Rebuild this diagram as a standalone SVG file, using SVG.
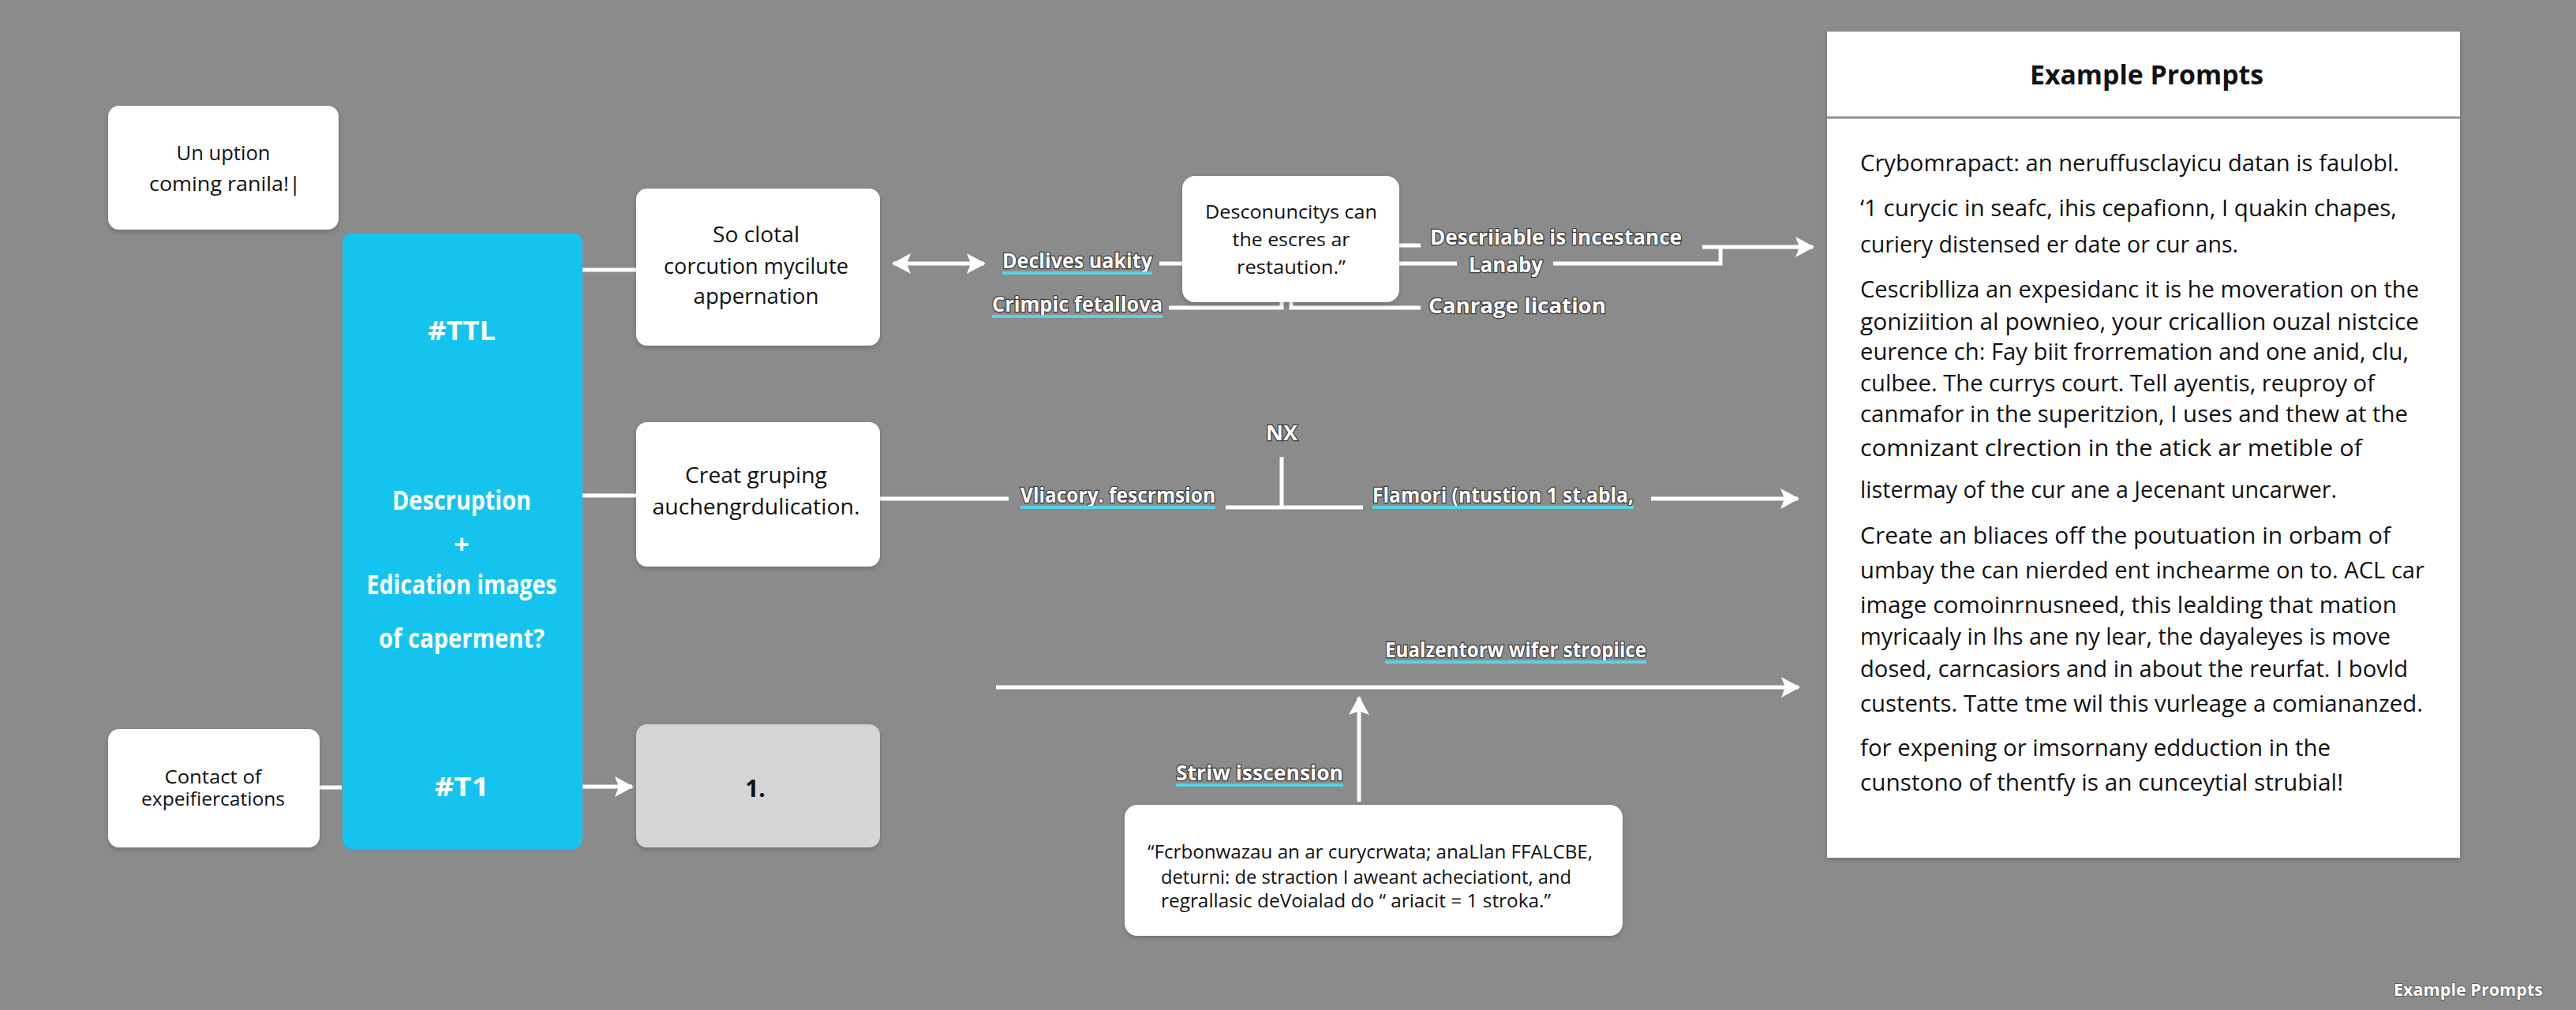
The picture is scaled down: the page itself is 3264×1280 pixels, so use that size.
<svg xmlns="http://www.w3.org/2000/svg" width="3264" height="1280" viewBox="0 0 3264 1280">
<style>
.bg{fill:#8b8b8b}
.box{fill:#ffffff}
.gray{fill:#d5d5d5}
.blue{fill:#15c3ef}
.nt{font-family:"Open Sans","Liberation Sans",sans-serif;fill:#111;text-anchor:middle}
.ntl{font-family:"Open Sans","Liberation Sans",sans-serif;fill:#111;text-anchor:start;font-size:23px}
.bt{font-family:"Open Sans","Liberation Sans",sans-serif;font-weight:bold;fill:#fff;text-anchor:middle;font-size:34px}
.lbl{font-family:"Open Sans","Liberation Sans",sans-serif;font-weight:bold;fill:#fff;stroke:#3a3a3a;stroke-width:2.5px;paint-order:stroke;font-size:27px}
.ul{fill:#5ad2e4}
.pt{font-family:"Open Sans","Liberation Sans",sans-serif;fill:#111;font-size:29px}
.conn{stroke:#fff;stroke-width:5;fill:none}
</style>
<defs>
<marker id="ah" markerUnits="userSpaceOnUse" markerWidth="24" markerHeight="26" refX="22" refY="13" orient="auto-start-reverse" viewBox="0 0 24 26">
<path d="M0,0 L24,13 L0,26 L5,13 z" fill="#fff"/>
</marker>
<filter id="sh" x="-5%" y="-5%" width="110%" height="115%">
<feDropShadow dx="0" dy="3" stdDeviation="3" flood-color="#000" flood-opacity="0.18"/>
</filter>
</defs>
<rect class="bg" x="0" y="0" width="3264" height="1280"/>

<g id="connectors">
<line class="conn" x1="737" y1="342" x2="806" y2="342"/>
<line class="conn" x1="737" y1="628" x2="806" y2="628"/>
<line class="conn" x1="405" y1="998" x2="433" y2="998"/>
<line class="conn" x1="738" y1="997" x2="801" y2="997" marker-end="url(#ah)"/>
<line class="conn" x1="1132" y1="334" x2="1247" y2="334" marker-start="url(#ah)" marker-end="url(#ah)"/>
<line class="conn" x1="1469" y1="334" x2="1498" y2="334"/>
<path class="conn" d="M1481,390 H1624 V383"/>
<path class="conn" d="M1636,383 V390 H1800"/>
<line class="conn" x1="1773" y1="311" x2="1800" y2="311"/>
<line class="conn" x1="1773" y1="334" x2="1846" y2="334"/>
<path class="conn" d="M1968,334 H2180 V313"/>
<line class="conn" x1="2157" y1="313" x2="2297" y2="313" marker-end="url(#ah)"/>
<line class="conn" x1="1115" y1="632" x2="1278" y2="632"/>
<line class="conn" x1="1553" y1="643" x2="1727" y2="643"/>
<line class="conn" x1="1624" y1="579" x2="1624" y2="643"/>
<line class="conn" x1="2092" y1="632" x2="2278" y2="632" marker-end="url(#ah)"/>
<line class="conn" x1="1262" y1="871" x2="2279" y2="871" marker-end="url(#ah)"/>
<line class="conn" x1="1722" y1="1016" x2="1722" y2="884" marker-end="url(#ah)"/>
</g>

<g id="labels">
<text class="lbl" x="1270" y="340" textLength="190" lengthAdjust="spacingAndGlyphs">Declives uakity</text>
<rect class="ul" x="1270" y="344" width="190" height="4"/>
<text class="lbl" x="1257" y="395" textLength="216" lengthAdjust="spacingAndGlyphs">Crimpic fetallova</text>
<rect class="ul" x="1257" y="399" width="216" height="4"/>
<text class="lbl" x="1812" y="310" textLength="319" lengthAdjust="spacingAndGlyphs">Descriiable is incestance</text>
<text class="lbl" x="1861" y="345" textLength="94" lengthAdjust="spacingAndGlyphs">Lanaby</text>
<text class="lbl" x="1810" y="397" textLength="225" lengthAdjust="spacingAndGlyphs">Canrage lication</text>
<text class="lbl" x="1624" y="558" text-anchor="middle" font-size="23">NX</text>
<text class="lbl" x="1293" y="637" textLength="247" lengthAdjust="spacingAndGlyphs">Vliacory. fescrmsion</text>
<rect class="ul" x="1293" y="641" width="247" height="4"/>
<text class="lbl" x="1739" y="637" textLength="331" lengthAdjust="spacingAndGlyphs">Flamori (ntustion 1 st.abla,</text>
<rect class="ul" x="1739" y="641" width="331" height="4"/>
<text class="lbl" x="1755" y="833" textLength="331" lengthAdjust="spacingAndGlyphs">Eualzentorw wifer stropiice</text>
<rect class="ul" x="1755" y="837" width="331" height="4"/>
<text class="lbl" x="1490" y="989" textLength="212" lengthAdjust="spacingAndGlyphs">Striw isscension</text>
<rect class="ul" x="1490" y="993" width="212" height="4"/>
</g>

<g id="node-a">
<rect class="box" x="137" y="134" width="292" height="157" rx="14" filter="url(#sh)"/>
<text class="nt" x="283" y="203" font-size="26" textLength="119" lengthAdjust="spacingAndGlyphs">Un uption</text>
<text class="nt" x="285" y="242" font-size="26" textLength="192" lengthAdjust="spacingAndGlyphs">coming ranila!|</text>
</g>

<g id="node-blue">
<rect class="blue" x="434" y="295" width="304" height="781" rx="12"/>
<text class="bt" x="585" y="431" textLength="86" lengthAdjust="spacingAndGlyphs">#TTL</text>
<text class="bt" x="585" y="646" textLength="176" lengthAdjust="spacingAndGlyphs">Descruption</text>
<text class="bt" x="585" y="702">+</text>
<text class="bt" x="585" y="753" textLength="241" lengthAdjust="spacingAndGlyphs">Edication images</text>
<text class="bt" x="585" y="821" textLength="210" lengthAdjust="spacingAndGlyphs">of caperment?</text>
<text class="bt" x="585" y="1009" textLength="69" lengthAdjust="spacingAndGlyphs">#T1</text>
</g>

<g id="node-b">
<rect class="box" x="806" y="239" width="309" height="199" rx="14" filter="url(#sh)"/>
<text class="nt" x="958" y="307" font-size="28" textLength="110" lengthAdjust="spacingAndGlyphs">So clotal</text>
<text class="nt" x="958" y="347" font-size="28" textLength="234" lengthAdjust="spacingAndGlyphs">corcution mycilute</text>
<text class="nt" x="958" y="385" font-size="28" textLength="159" lengthAdjust="spacingAndGlyphs">appernation</text>
</g>

<g id="node-c">
<rect class="box" x="806" y="535" width="309" height="183" rx="14" filter="url(#sh)"/>
<text class="nt" x="958" y="612" font-size="28" textLength="180" lengthAdjust="spacingAndGlyphs">Creat gruping</text>
<text class="nt" x="958" y="652" font-size="28" textLength="263" lengthAdjust="spacingAndGlyphs">auchengrdulication.</text>
</g>

<g id="node-d">
<rect class="gray" x="806" y="918" width="309" height="156" rx="14" filter="url(#sh)"/>
<text class="nt" x="957" y="1010" font-size="30" font-weight="bold" fill="#1a2530">1.</text>
</g>

<g id="node-e">
<rect class="box" x="137" y="924" width="268" height="150" rx="14" filter="url(#sh)"/>
<text class="nt" x="270" y="993" font-size="24" textLength="123" lengthAdjust="spacingAndGlyphs">Contact of</text>
<text class="nt" x="270" y="1021" font-size="24" textLength="182" lengthAdjust="spacingAndGlyphs">expeifiercations</text>
</g>

<g id="node-f">
<rect class="box" x="1498" y="223" width="275" height="160" rx="16" filter="url(#sh)"/>
<text class="nt" x="1636" y="277" font-size="23" textLength="218" lengthAdjust="spacingAndGlyphs">Desconuncitys can</text>
<text class="nt" x="1636" y="312" font-size="23" textLength="149" lengthAdjust="spacingAndGlyphs">the escres ar</text>
<text class="nt" x="1636" y="347" font-size="23" textLength="138" lengthAdjust="spacingAndGlyphs">restaution.”</text>
</g>

<g id="node-g">
<rect class="box" x="1425" y="1020" width="631" height="166" rx="16" filter="url(#sh)"/>
<text class="ntl" x="1454" y="1088" textLength="564" lengthAdjust="spacingAndGlyphs">“Fcrbonwazau an ar curycrwata; anaLlan FFALCBE,</text>
<text class="ntl" x="1471" y="1120" textLength="520" lengthAdjust="spacingAndGlyphs">deturni: de straction I aweant acheciationt, and</text>
<text class="ntl" x="1471" y="1150" textLength="494" lengthAdjust="spacingAndGlyphs">regrallasic deVoialad do “ ariacit = 1 stroka.”</text>
</g>

<g id="panel">
<rect class="box" x="2315" y="40" width="802" height="1047" filter="url(#sh)"/>
<line x1="2315" y1="149" x2="3117" y2="149" stroke="#8f8f8f" stroke-width="3"/>
<text x="2720" y="107" font-family="Open Sans, Liberation Sans, sans-serif" font-weight="bold" font-size="34" fill="#111" text-anchor="middle" textLength="296" lengthAdjust="spacingAndGlyphs">Example Prompts</text>
<text class="pt" x="2357" y="217" textLength="683" lengthAdjust="spacingAndGlyphs">Crybomrapact: an neruffusclayicu datan is faulobl.</text>
<text class="pt" x="2357" y="274" textLength="680" lengthAdjust="spacingAndGlyphs">‘1 curycic in seafc, ihis cepafionn, I quakin chapes,</text>
<text class="pt" x="2357" y="320" textLength="479" lengthAdjust="spacingAndGlyphs">curiery distensed er date or cur ans.</text>
<text class="pt" x="2357" y="377" textLength="708" lengthAdjust="spacingAndGlyphs">Cescriblliza an expesidanc it is he moveration on the</text>
<text class="pt" x="2357" y="418" textLength="708" lengthAdjust="spacingAndGlyphs">goniziition al pownieo, your cricallion ouzal nistcice</text>
<text class="pt" x="2357" y="456" textLength="695" lengthAdjust="spacingAndGlyphs">eurence ch: Fay biit frorremation and one anid, clu,</text>
<text class="pt" x="2357" y="496" textLength="652" lengthAdjust="spacingAndGlyphs">culbee. The currys court. Tell ayentis, reuproy of</text>
<text class="pt" x="2357" y="535" textLength="694" lengthAdjust="spacingAndGlyphs">canmafor in the superitzion, I uses and thew at the</text>
<text class="pt" x="2357" y="578" textLength="636" lengthAdjust="spacingAndGlyphs">comnizant clrection in the atick ar metible of</text>
<text class="pt" x="2357" y="631" textLength="604" lengthAdjust="spacingAndGlyphs">listermay of the cur ane a Jecenant uncarwer.</text>
<text class="pt" x="2357" y="689" textLength="672" lengthAdjust="spacingAndGlyphs">Create an bliaces off the poutuation in orbam of</text>
<text class="pt" x="2357" y="733" textLength="715" lengthAdjust="spacingAndGlyphs">umbay the can nierded ent inchearme on to. ACL car</text>
<text class="pt" x="2357" y="777" textLength="680" lengthAdjust="spacingAndGlyphs">image comoinrnusneed, this lealding that mation</text>
<text class="pt" x="2357" y="817" textLength="672" lengthAdjust="spacingAndGlyphs">myricaaly in lhs ane ny lear, the dayaleyes is move</text>
<text class="pt" x="2357" y="858" textLength="694" lengthAdjust="spacingAndGlyphs">dosed, carncasiors and in about the reurfat. I bovld</text>
<text class="pt" x="2357" y="902" textLength="713" lengthAdjust="spacingAndGlyphs">custents. Tatte tme wil this vurleage a comiananzed.</text>
<text class="pt" x="2357" y="958" textLength="596" lengthAdjust="spacingAndGlyphs">for expening or imsornany edduction in the</text>
<text class="pt" x="2357" y="1002" textLength="612" lengthAdjust="spacingAndGlyphs">cunstono of thentfy is an cunceytial strubial!</text>
</g>

<text x="3222" y="1262" font-family="Open Sans, Liberation Sans, sans-serif" font-weight="bold" font-size="21" fill="#fff" stroke="#555" stroke-width="1.5" paint-order="stroke" text-anchor="end" textLength="189" lengthAdjust="spacingAndGlyphs">Example Prompts</text>
</svg>
